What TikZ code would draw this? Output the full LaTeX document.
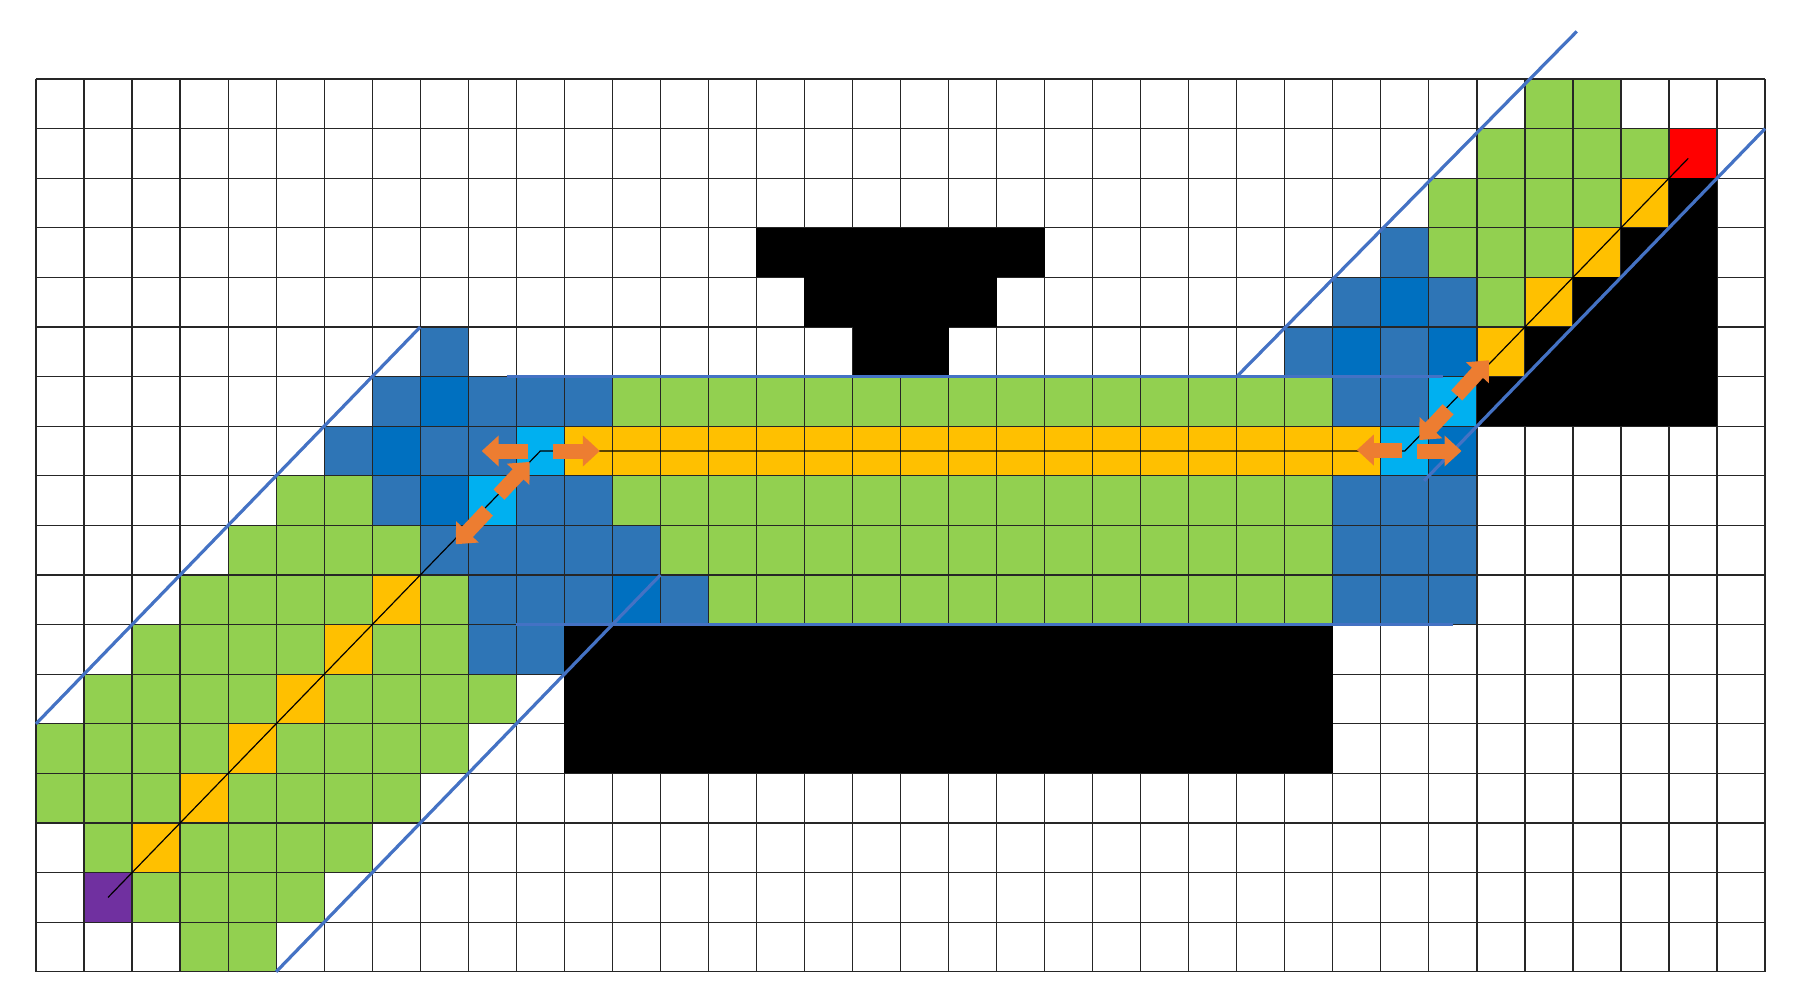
\documentclass[tikz,border=0pt]{standalone}
\usetikzlibrary{arrows.meta}
\definecolor{cgreen}{HTML}{92D050}
\definecolor{cyellow}{HTML}{FFC000}
\definecolor{cblue}{HTML}{2E75B6}
\definecolor{cdark}{HTML}{0070C0}
\definecolor{ccyan}{HTML}{00B0F0}
\definecolor{cpurple}{HTML}{7030A0}
\definecolor{cred}{HTML}{FF0000}
\definecolor{cline}{HTML}{4472C4}
\definecolor{corange}{HTML}{ED7D31}
\newcommand\crow[3]{\foreach \cc in {#3} {\fill[#1] (\cc,#2) rectangle ++(1,1);}}
\tikzset{
  gridline/.style={draw=black!85, line width=0.6pt},
  bline/.style={draw=cline, line width=1.6pt},
  pathline/.style={draw=black, line width=0.6pt},
  oarrow/.style={draw=corange, line width=7.5pt, -{Triangle[length=8.5pt,width=15pt]}}
}
\begin{document}
\begin{tikzpicture}[x=24.015pt,y=-24.8pt]
\useasboundingbox (-0.7495,-1.5927) rectangle (36.644,18.468);
\fill[white] (-0.7495,-1.5927) rectangle (36.644,18.468);
% green cells
\crow{cgreen}{0}{31,32}
\crow{cgreen}{1}{30,...,33}
\crow{cgreen}{2}{29,...,32}
\crow{cgreen}{3}{29,30,31}
\crow{cgreen}{4}{30}
\crow{cgreen}{6}{12,...,26}
\crow{cgreen}{8}{5,6,12,13,...,26}
\crow{cgreen}{9}{4,5,6,7,13,14,...,26}
\crow{cgreen}{10}{3,4,5,6,8,14,15,...,26}
\crow{cgreen}{11}{2,3,4,5,7,8}
\crow{cgreen}{12}{1,2,3,4,6,7,8,9}
\crow{cgreen}{13}{0,1,2,3,5,6,7,8}
\crow{cgreen}{14}{0,1,2,4,5,6,7}
\crow{cgreen}{15}{1,3,4,5,6}
\crow{cgreen}{16}{2,3,4,5}
\crow{cgreen}{17}{3,4}
% yellow cells
\crow{cyellow}{2}{33}
\crow{cyellow}{3}{32}
\crow{cyellow}{4}{31}
\crow{cyellow}{5}{30}
\crow{cyellow}{7}{11,...,27}
\crow{cyellow}{10}{7}
\crow{cyellow}{11}{6}
\crow{cyellow}{12}{5}
\crow{cyellow}{13}{4}
\crow{cyellow}{14}{3}
\crow{cyellow}{15}{2}
% blue cells
\crow{cblue}{3}{28}
\crow{cblue}{4}{27,29}
\crow{cblue}{5}{8,26,28}
\crow{cblue}{6}{7,9,10,11,27,28}
\crow{cblue}{7}{6,8,9}
\crow{cblue}{8}{7,10,11,27,28,29}
\crow{cblue}{9}{8,9,10,11,12,27,28,29}
\crow{cblue}{10}{9,10,11,13,27,28,29}
\crow{cblue}{11}{9,10}
\crow{cdark}{4}{28}
\crow{cdark}{5}{27,29}
\crow{cdark}{6}{8}
\crow{cdark}{7}{7,29}
\crow{cdark}{8}{8}
\crow{cdark}{10}{12}
\crow{ccyan}{6}{29}
\crow{ccyan}{7}{10,28}
\crow{ccyan}{8}{9}
\crow{cpurple}{16}{1}
\crow{cred}{1}{34}
% grid
\foreach \i in {0,...,36} {\draw[gridline] (\i,0) -- (\i,18);}
\foreach \j in {0,...,18} {\draw[gridline] (0,\j) -- (36,\j);}
% black obstacles
\crow{black}{2}{34}
\crow{black}{3}{33,34}
\crow{black}{4}{32,33,34}
\crow{black}{5}{31,...,34}
\crow{black}{6}{30,...,34}
\crow{black}{3}{15,...,20}
\crow{black}{4}{16,...,19}
\crow{black}{5}{17,18}
\fill[black] (11,11) rectangle (27,14);
% blue boundary lines
\coordinate (la1) at (0,13);  \coordinate (la2) at (8,5);
\coordinate (lb1) at (5,18);  \coordinate (lb2) at (13,10);
\coordinate (ht1) at (9.8,6); \coordinate (ht2) at (29.3,6);
\coordinate (hb1) at (10,11); \coordinate (hb2) at (29.5,11);
\coordinate (ra1) at (25,6);  \coordinate (ra2) at (32.08,-0.96);
\coordinate (rb1) at (36,1);  \coordinate (rb2) at (28.9,8.1);
\draw[bline] (la1) -- (la2);
\draw[bline] (lb1) -- (lb2);
\draw[bline] (ht1) -- (ht2);
\draw[bline] (hb1) -- (hb2);
\draw[bline] (ra1) -- (ra2);
\draw[bline] (rb1) -- (rb2);
% path
\coordinate (start) at (1.5,16.5);
\coordinate (c1) at (10.5,7.5);
\coordinate (c2) at (28.5,7.5);
\coordinate (goal) at (34.4,1.6);
\draw[pathline] (start) -- (c1) -- (c2) -- (goal);
% orange arrows, left corner
\draw[oarrow] (10.25,7.5) -- (9.28,7.5);
\draw[oarrow] (10.76,7.5) -- (11.74,7.5);
\draw[oarrow] (9.64,8.38) -- (10.28,7.72);
\draw[oarrow] (9.40,8.70) -- (8.74,9.38);
% orange arrows, right corner
\draw[oarrow] (28.43,7.48) -- (27.5,7.48);
\draw[oarrow] (28.75,7.5) -- (29.68,7.5);
\draw[oarrow] (29.40,6.66) -- (28.80,7.28);
\draw[oarrow] (29.58,6.38) -- (30.25,5.67);
\end{tikzpicture}
\end{document}
